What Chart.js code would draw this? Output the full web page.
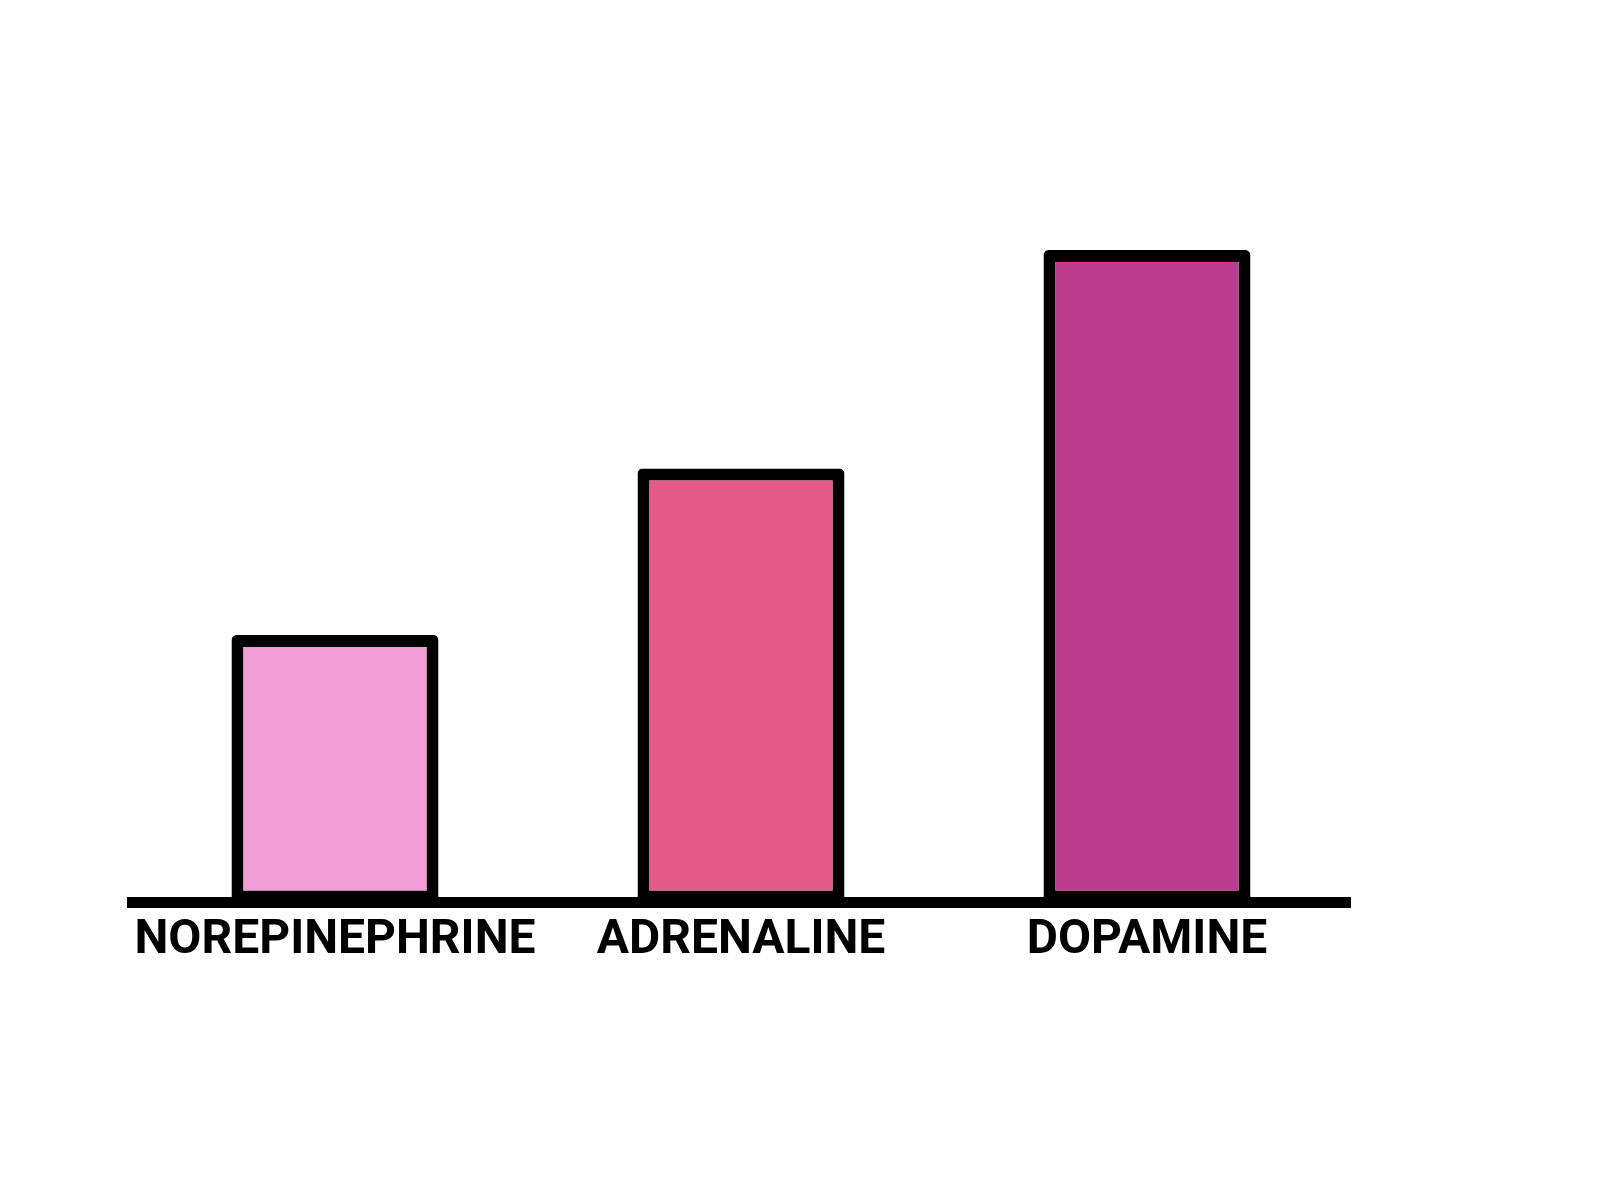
<!DOCTYPE html>
<html>
<head>
<meta charset="utf-8">
<script src="https://cdn.jsdelivr.net/npm/chart.js@4"></script>
<style>
  html, body { margin: 0; padding: 0; background: #fff; }
  #wrap { width: 1600px; height: 1200px; }
</style>
</head>
<body>
<div id="wrap"><canvas id="chart" width="1600" height="1200"></canvas></div>
<script>
// hormone levels (relative units)
const labels = ["NOREPINEPHRINE", "ADRENALINE", "DOPAMINE"];
const values = [41, 66.5, 100];
const barColors = ["#f19ed4", "#e35a89", "#bb3c8c"];

const canvas = document.getElementById("chart");

const chart = new Chart(canvas, {
  type: "bar",
  data: {
    labels: labels,
    datasets: [
      {
        data: values,
        backgroundColor: barColors,
        borderColor: "#000",
        borderWidth: 12,
        borderSkipped: false,
        borderRadius: 5,
        barPercentage: 0.51,
        categoryPercentage: 1,
      },
    ],
  },
  options: {
    responsive: false,
    animation: false,
    layout: {
      padding: { top: 250, left: 132, right: 250, bottom: 220 },
    },
    scales: {
      y: {
        display: false,
        min: 0,
        max: 100,
      },
      x: {
        grid: { display: false, drawTicks: false },
        border: { display: true, color: "#000", width: 11 },
        ticks: {
          color: "#000",
          padding: 10,
          maxRotation: 0,
          font: { family: "Roboto", size: 48, weight: "bold" },
        },
      },
    },
    plugins: {
      legend: { display: false },
      tooltip: { enabled: false },
    },
  },
});
</script>
</body>
</html>
